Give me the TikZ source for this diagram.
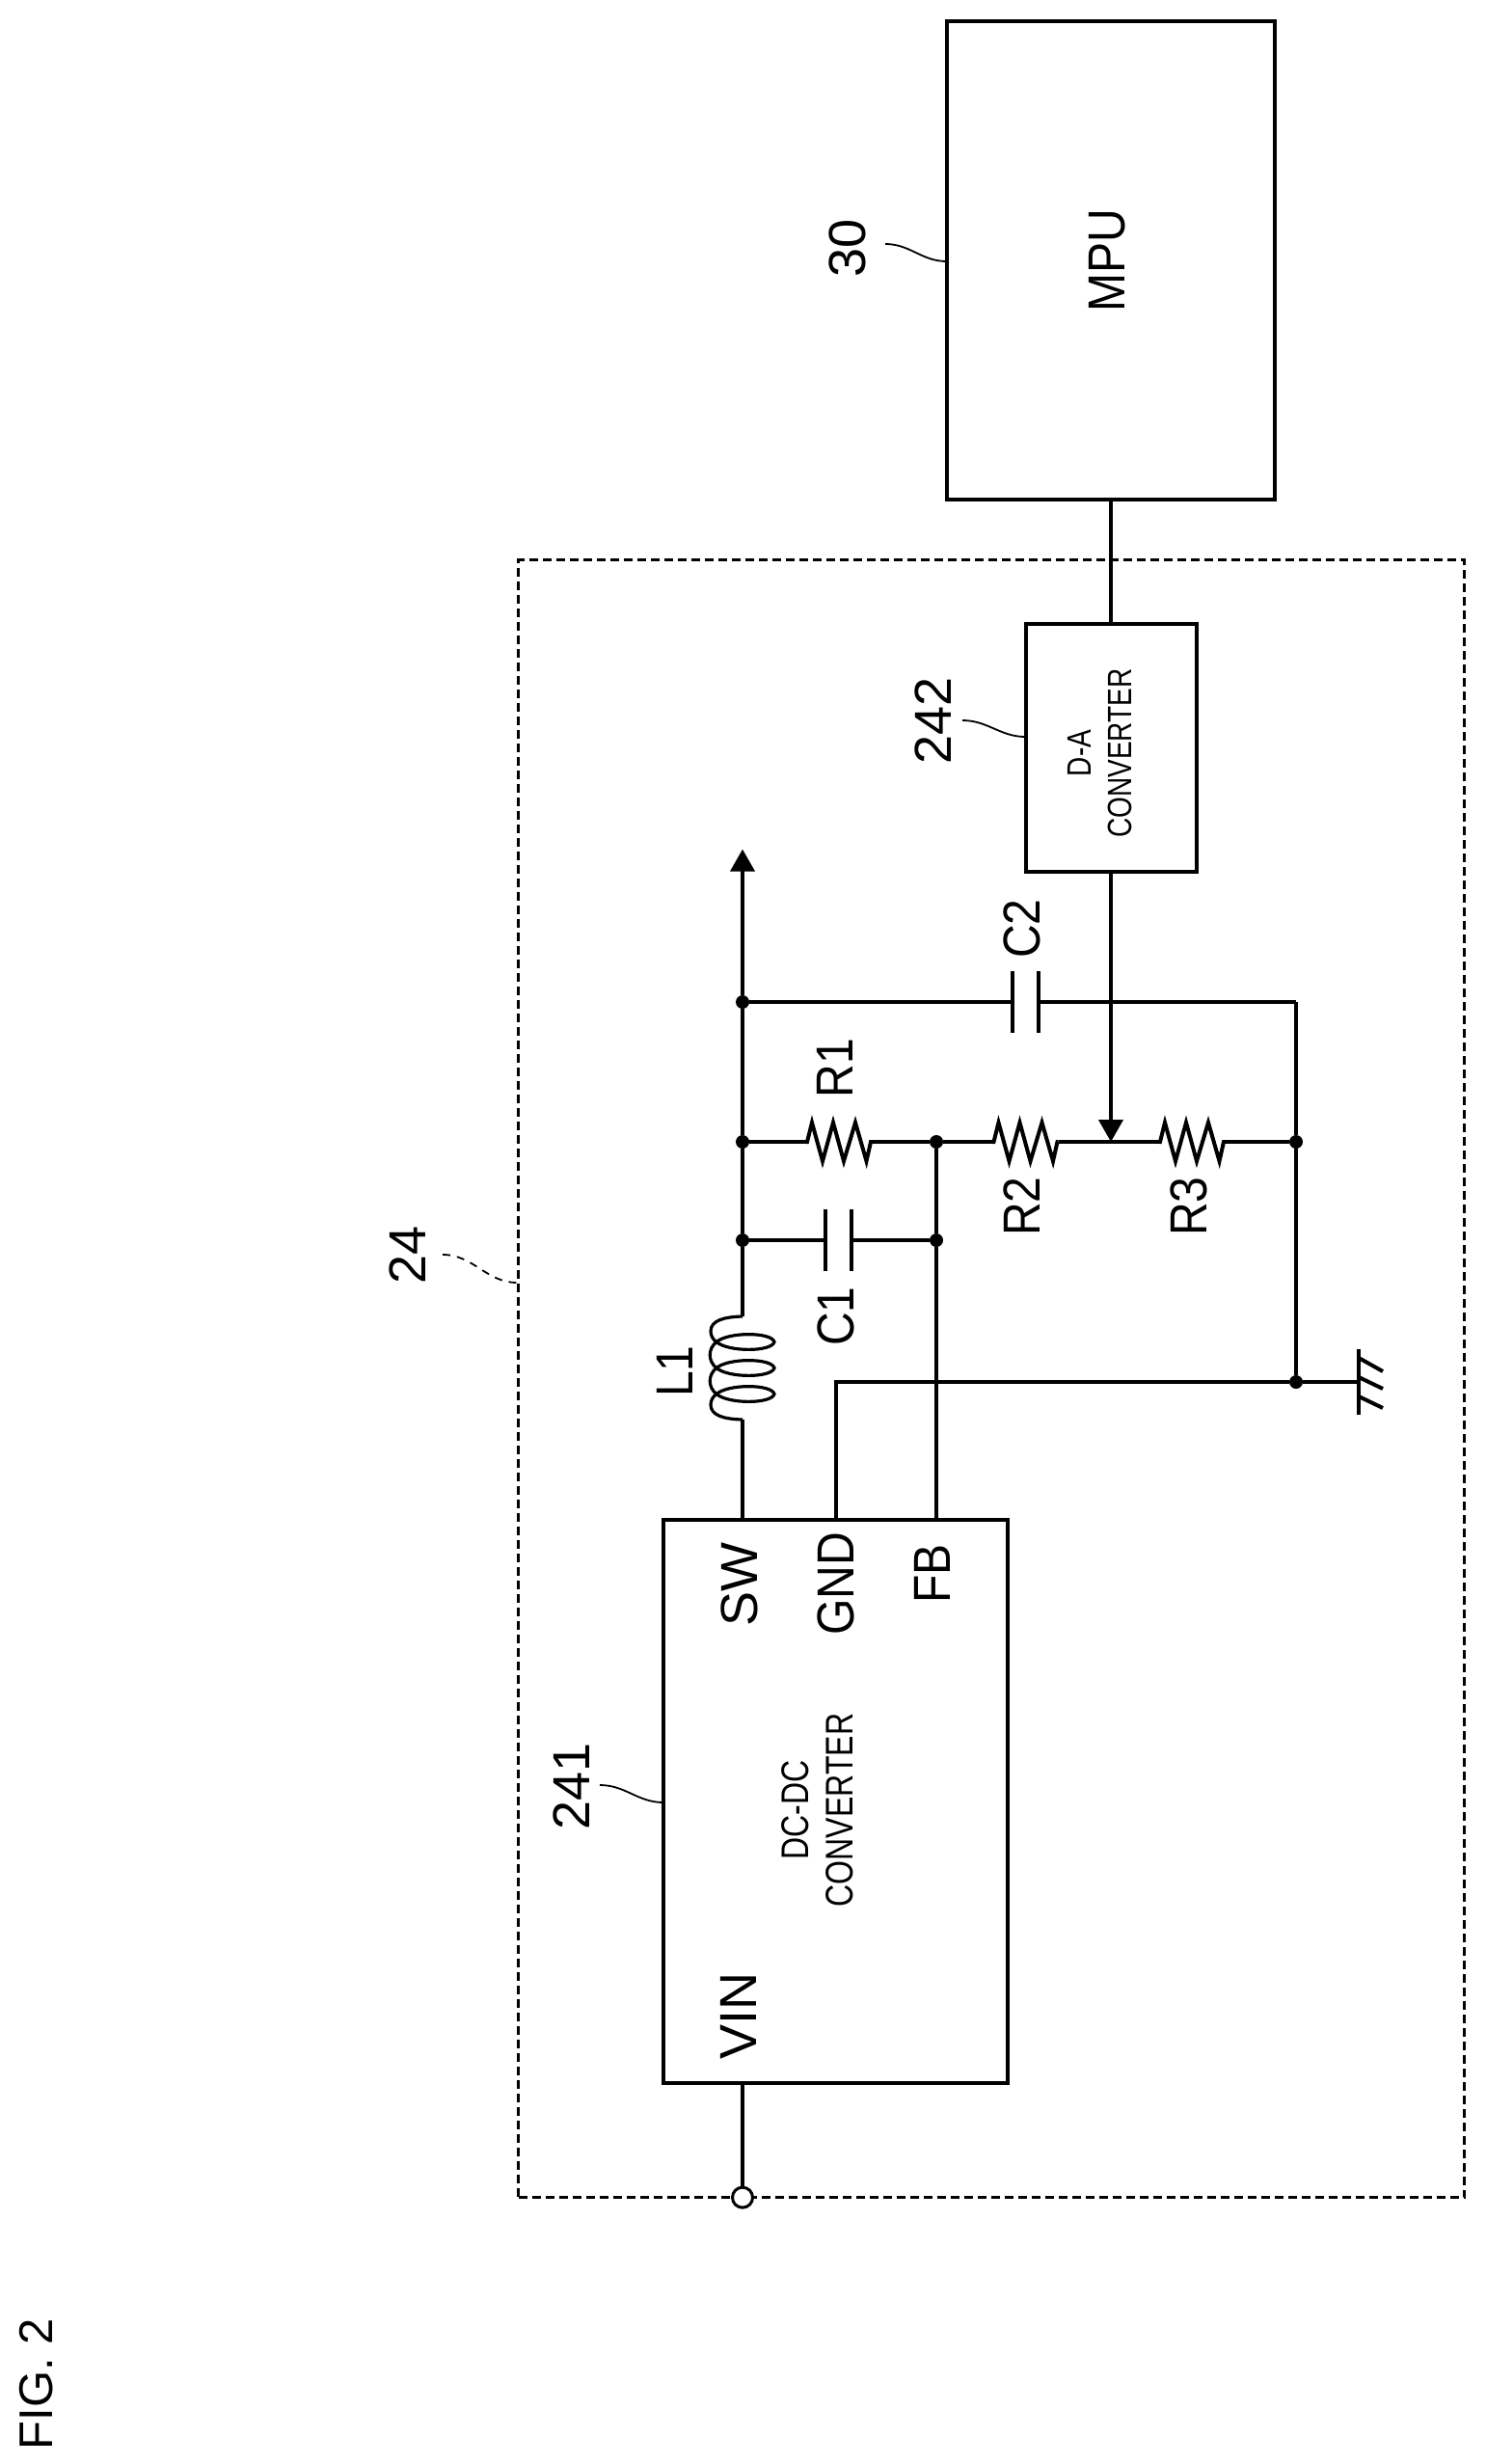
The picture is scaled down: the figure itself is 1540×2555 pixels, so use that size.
\documentclass[tikz,border=0pt]{standalone}
\usepackage{fontspec}
\setmainfont{Liberation Sans}
\newfontfamily\labelfont[FakeStretch=0.89]{Liberation Sans}
\newfontfamily\narrowfont[FakeStretch=0.8]{Liberation Sans}
\usetikzlibrary{arrows.meta}
\tikzset{
  >={Triangle[length=23pt,width=25pt]},
  wire/.style = {draw, line width=4pt},
  thin wire/.style = {draw, line width=3.2pt},
  leader/.style = {draw, line width=1.8pt},
  boundary/.style = {draw, line width=2.2pt, dash pattern=on 9pt off 5pt},
  point/.style = {circle, fill=black, inner sep=0, minimum size=14pt},
  terminal/.style = {circle, draw, fill=white, line width=3pt, inner sep=0, minimum size=21pt},
  box/.style = {rectangle, draw, line width=4pt, inner sep=0, outer sep=0},
  num/.style = {rotate=90, inner sep=0, font=\fontsize{54}{54}\selectfont},
  pinlabel/.style = {rotate=90, inner sep=0, font=\labelfont\fontsize{54}{54}\selectfont},
  boxlabel/.style 2 args = {rotate=90, inner sep=0, align=center, font=\narrowfont\fontsize{#1}{#2}\selectfont},
  resistor/.pic = {
    \coordinate (-a) at (-34,0);
    \coordinate (-b) at (34,0);
    \draw[wire] (-34,0) -- (-33,0) -- (-28,-20) -- (-17,20) -- (-6,-20) -- (5,20) -- (17,-20) -- (28.5,20) -- (33,0) -- (34,0);
  },
  capacitor/.pic = {
    \coordinate (-a) at (-13.5,0);
    \coordinate (-b) at (13.5,0);
    \draw[wire] (-13.5,-32) -- (-13.5,32);
    \draw[wire] (13.5,-32) -- (13.5,32);
  },
  inductor/.pic = {
    \coordinate (-a) at (0,-53.5);
    \coordinate (-b) at (0,53.5);
    \draw[thin wire] (0,-53.5) .. controls (-20,-53) and (-33,-49) .. (-33,-38) .. controls (-33,-33) and (-30,-29) .. (-27,-27)
      .. controls (-15,-37.5) and (30,-37.5) .. (33,-27) .. controls (30,-16.5) and (-15,-16.5) .. (-27,-27)
      .. controls (-36,-20) and (-36,-7) .. (-27,0)
      .. controls (-15,-10.5) and (30,-10.5) .. (33,0) .. controls (30,10.5) and (-15,10.5) .. (-27,0)
      .. controls (-36,7) and (-36,20) .. (-27,27)
      .. controls (-15,16.5) and (30,16.5) .. (33,27) .. controls (30,37.5) and (-15,37.5) .. (-27,27)
      .. controls (-30,29) and (-33,33) .. (-33,38) .. controls (-33,49) and (-20,53) .. (0,53.5);
  },
}

\begin{document}
\begin{tikzpicture}[x=1pt,y=-1pt]
\useasboundingbox (0,0) rectangle (1540,2555);

\node[boundary,rectangle,inner sep=0,minimum width=981pt,minimum height=1698pt] (u24) at (1028,1429.5) {};

% blocks
\node[box,minimum width=340.7pt,minimum height=495.6pt] (mpu) at (1152,270.2) {};
\node[box,minimum width=177pt,minimum height=257.3pt] (da) at (1152,775.4) {};
\node[box,minimum width=357pt,minimum height=584.2pt] (dc) at (866.5,1867.6) {};

\node[pinlabel] (tmpu) at (1148,270) {MPU};
\node[boxlabel={35}{42}] (tda) at (1140.5,781) {D-A\\CONVERTER};
\node[boxlabel={40}{46}] (tdc) at (848,1877) {DC-DC\\CONVERTER};
\node[num] (tsw) at (766.5,1643) {SW};
\node[pinlabel] (tgnd) at (867,1642) {GND};
\node[pinlabel] (tfb) at (967,1632) {FB};
\node[num] (tvin) at (766,2090) {VIN};

% junctions
\node[point] (j1) at (770,1039) {};
\node[point] (j2) at (770,1184) {};
\node[point] (j3) at (770,1286) {};
\node[point] (j4) at (971,1184) {};
\node[point] (j5) at (971,1286) {};
\node[point] (j6) at (1344,1184) {};
\node[point] (j7) at (1344,1433) {};
\node[terminal] (vin) at (770,2278.6) {};
\coordinate (c1) at (1344,1039);
\coordinate (tap) at (1152,1184);
\coordinate (out) at (770,880.6);
\coordinate (gnd) at (1409,1433);
\coordinate (psw) at (770,1575.5);
\coordinate (pgnd) at (866.7,1575.5);
\coordinate (pfb) at (971,1575.5);

% parts
\pic (R1) at (870,1184) {resistor};
\pic (R2) at (1063.5,1184) {resistor};
\pic (R3) at (1236,1184) {resistor};
\pic (C1) at (869,1286) {capacitor};
\pic (C2) at (1063,1039) {capacitor};
\pic (L1) at (770,1418.5) {inductor};

\node[pinlabel] (tr1) at (866,1107.7) {R1};
\node[pinlabel] (tr2) at (1059.6,1251) {R2};
\node[pinlabel] (tr3) at (1233,1251) {R3};
\node[pinlabel] (tc1) at (867.3,1365) {C1};
\node[pinlabel] (tc2) at (1059.6,963) {C2};
\node[pinlabel] (tl1) at (700,1422) {L1};

% wiring
\path[wire] (mpu.south) edge (da.north)
            (j1) edge (j2)
            (j2) edge (j3)
            (j3) edge (L1-a)
            (L1-b) edge (psw)
            (j2) edge (R1-a)
            (R1-b) edge (j4)
            (j4) edge (R2-a)
            (R2-b) edge (tap)
            (tap) edge (R3-a)
            (R3-b) edge (j6)
            (j3) edge (C1-a)
            (C1-b) edge (j5)
            (j1) edge (C2-a)
            (C2-b) edge (c1)
            (c1) edge (j6)
            (j6) edge (j7)
            (j4) edge (j5)
            (j5) edge (pfb)
            (j7) edge (gnd)
            (dc.south -| vin) edge (vin)
            (j1) edge[->] (out)
            (da.south) edge[->] (tap);
\draw[wire] (pgnd) |- (j7);

% ground
\coordinate (g0) at (1409,1399);
\coordinate (g1) at (1409,1467);
\path[wire] (g0) edge (g1)
            (1409,1408) edge (1434,1422)
            (1409,1428) edge (1434,1440)
            (1409,1448) edge (1434,1460);

% reference numerals
\node[num] (n30) at (879,257) {30};
\node[num] (n242) at (968,747) {242};
\node[num] (n241) at (592.6,1852) {241};
\node[num] (n24) at (423,1301.7) {24};
\node[num,font=\fontsize{49}{49}\selectfont] (fig) at (38,2472) {FIG. 2};

\coordinate (l30) at (918,253);
\coordinate (l242) at (998,747);
\coordinate (l241) at (622,1851);
\coordinate (l24) at (459,1301);
\draw[leader] (l30) to[out=0,in=180] (mpu.west |- 0,271);
\draw[leader] (l242) to[out=0,in=180] (da.west |- 0,764);
\draw[leader] (l241) to[out=0,in=180] (dc.west |- 0,1869);
\draw[leader,dash pattern=on 8pt off 7pt] (l24) to[out=0,in=180] (u24.west |- 0,1330);
\end{tikzpicture}
\end{document}
